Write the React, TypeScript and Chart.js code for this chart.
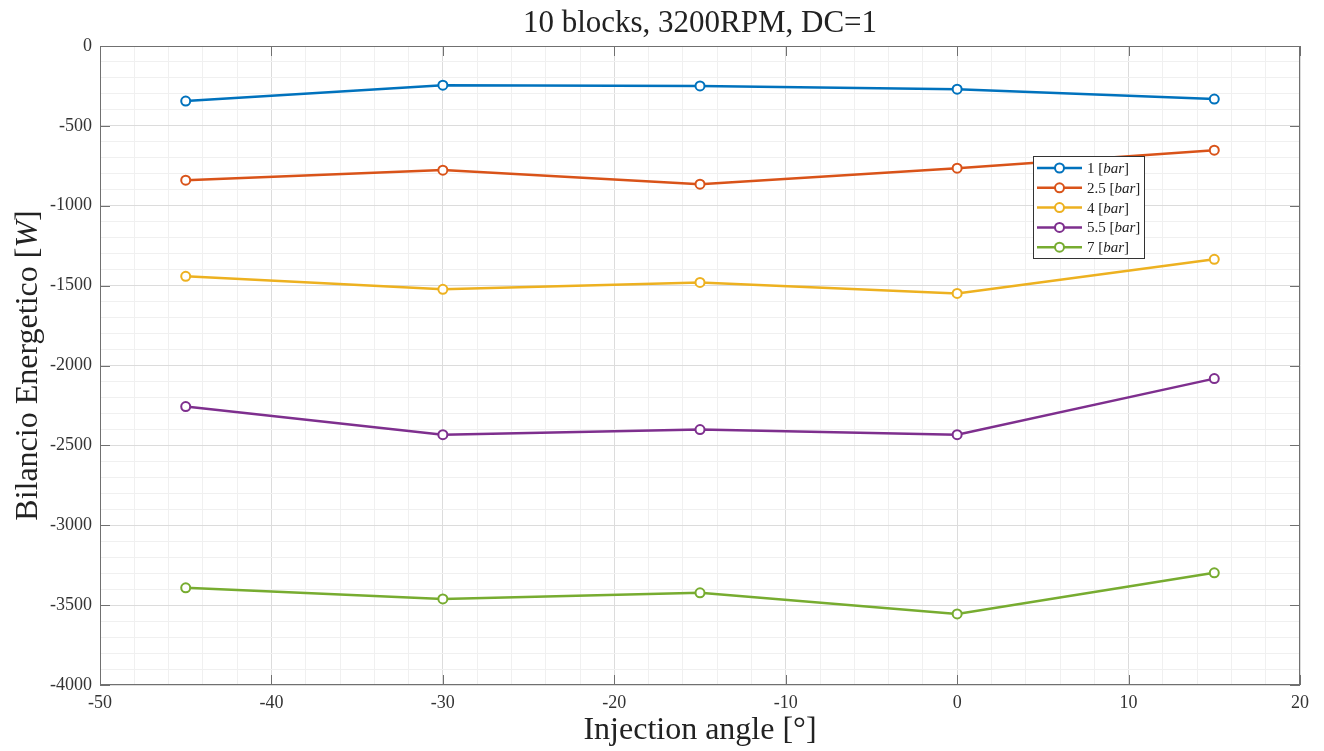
import React, { useEffect, useRef } from 'react';
import { Chart, registerables } from 'chart.js';
Chart.register(...registerables);

const angles = [-45, -30, -15, 0, 15];
const seriesLabels = ['1', '2.5', '4', '5.5', '7'];
const p1 = [-345, -245, -250, -270, -332];
const p25 = [-840, -777, -865, -765, -652];
const p4 = [-1442, -1523, -1480, -1549, -1335];
const p55 = [-2257, -2433, -2401, -2433, -2082];
const p7 = [-3392, -3461, -3423, -3555, -3298];
const seriesValues = [p1, p25, p4, p55, p7];
const colors = ['#0072BD', '#D95319', '#EDB120', '#7E2F8E', '#77AC30'];

const titleText = '10 blocks, 3200RPM, DC=1';
const FONT = '"Liberation Serif", "Times New Roman", serif';

type Part = [string, boolean];

function drawParts(ctx: CanvasRenderingContext2D, parts: Part[], cx: number, y: number, size: number) {
  const widths = parts.map(([t, it]) => {
    ctx.font = `${it ? 'italic ' : ''}${size}px ${FONT}`;
    return ctx.measureText(t).width;
  });
  const total = widths.reduce((a, b) => a + b, 0);
  let x = cx - total / 2;
  parts.forEach(([t, it], i) => {
    ctx.font = `${it ? 'italic ' : ''}${size}px ${FONT}`;
    ctx.textAlign = 'left';
    ctx.fillText(t, x, y);
    x += widths[i];
  });
}

function drawPartsLeft(ctx: CanvasRenderingContext2D, parts: Part[], x0: number, y: number, size: number) {
  let x = x0;
  parts.forEach(([t, it]) => {
    ctx.font = `${it ? 'italic ' : ''}${size}px ${FONT}`;
    ctx.textAlign = 'left';
    ctx.fillText(t, x, y);
    x += ctx.measureText(t).width;
  });
}

const decorPlugin = {
  id: 'decor',
  afterDraw(chart: any) {
    const ctx: CanvasRenderingContext2D = chart.ctx;
    const a = chart.chartArea;
    const xs = chart.scales.x;
    const ys = chart.scales.y;
    ctx.save();
    // box
    ctx.strokeStyle = '#707070';
    ctx.lineWidth = 1;
    ctx.strokeRect(a.left + 0.5, a.top + 0.5, a.right - a.left - 1, a.bottom - a.top - 1);
    // inward ticks
    ctx.beginPath();
    for (let v = -4000; v <= 0; v += 500) {
      const py = Math.round(ys.getPixelForValue(v)) + 0.5;
      ctx.moveTo(a.left, py);
      ctx.lineTo(a.left + 10, py);
      ctx.moveTo(a.right, py);
      ctx.lineTo(a.right - 10, py);
    }
    for (let v = -50; v <= 20; v += 10) {
      const px = Math.round(xs.getPixelForValue(v)) + 0.5;
      ctx.moveTo(px, a.bottom);
      ctx.lineTo(px, a.bottom - 10);
      ctx.moveTo(px, a.top);
      ctx.lineTo(px, a.top + 10);
    }
    ctx.stroke();

    ctx.fillStyle = '#222';
    ctx.textBaseline = 'alphabetic';
    // title
    drawParts(ctx, [[titleText, false]], (a.left + a.right) / 2, 32, 31);
    // x label
    drawParts(ctx, [['Injection angle [°]', false]], (a.left + a.right) / 2, 739, 32);
    // y label
    ctx.save();
    ctx.translate(37, (a.top + a.bottom) / 2);
    ctx.rotate(-Math.PI / 2);
    drawParts(ctx, [['Bilancio Energetico [', false], ['W', true], [']', false]], 0, 0, 32);
    ctx.restore();

    // legend
    const bx = 1033, by = 156, bw = 111, bh = 102;
    ctx.fillStyle = '#fff';
    ctx.fillRect(bx, by, bw, bh);
    ctx.strokeStyle = '#333';
    ctx.lineWidth = 1;
    ctx.strokeRect(bx + 0.5, by + 0.5, bw, bh);
    seriesLabels.forEach((lab, i) => {
      const ry = 168 + i * 19.8;
      ctx.strokeStyle = colors[i];
      ctx.lineWidth = 2.5;
      ctx.beginPath();
      ctx.moveTo(1037, ry);
      ctx.lineTo(1082, ry);
      ctx.stroke();
      ctx.beginPath();
      ctx.arc(1059.5, ry, 4.5, 0, Math.PI * 2);
      ctx.fillStyle = '#fff';
      ctx.fill();
      ctx.lineWidth = 2;
      ctx.stroke();
      ctx.fillStyle = '#222';
      ctx.textBaseline = 'middle';
      drawPartsLeft(ctx, [[lab + ' [', false], ['bar', true], [']', false]], 1087, ry + 1, 15);
    });
    ctx.restore();
  },
};

export default function App() {
  const ref = useRef<HTMLCanvasElement | null>(null);
  useEffect(() => {
    if (!ref.current) return;
    const datasets = seriesValues.map((vals, i) => ({
      label: seriesLabels[i] + ' [bar]',
      data: angles.map((x, j) => ({ x, y: vals[j] })),
      borderColor: colors[i],
      backgroundColor: colors[i],
      borderWidth: 2.5,
      pointRadius: 4.5,
      pointBorderWidth: 2,
      pointBackgroundColor: '#ffffff',
      pointBorderColor: colors[i],
      tension: 0,
      fill: false,
    }));
    const chart = new Chart(ref.current, {
      type: 'line',
      data: { datasets },
      options: {
        animation: false,
        responsive: false,
        layout: { padding: { top: 46, right: 24, left: 0, bottom: 0 } },
        plugins: { legend: { display: false }, title: { display: false }, tooltip: { enabled: false } },
        scales: {
          x: {
            type: 'linear',
            min: -50,
            max: 20,
            afterFit: (s: any) => { s.height = 66; },
            ticks: {
              stepSize: 2,
              autoSkip: false,
              maxRotation: 0,
              padding: 7,
              color: '#333',
              font: { family: FONT, size: 18 },
              callback: (v: any) => (Math.abs(Math.round(Number(v))) % 10 === 0 ? String(Math.round(Number(v))) : ''),
            },
            grid: {
              drawTicks: false,
              color: (c: any) => (c.tick && Math.abs(Math.round(c.tick.value)) % 10 === 0 ? '#dcdcdc' : '#f0f0f0'),
            },
            border: { display: false },
          },
          y: {
            type: 'linear',
            min: -4000,
            max: 0,
            afterFit: (s: any) => { s.width = 100; },
            ticks: {
              stepSize: 100,
              autoSkip: false,
              padding: 8,
              color: '#333',
              font: { family: FONT, size: 18 },
              callback: (v: any) => (Math.abs(Math.round(Number(v))) % 500 === 0 ? String(Math.round(Number(v))) : ''),
            },
            grid: {
              drawTicks: false,
              color: (c: any) => (c.tick && Math.abs(Math.round(c.tick.value)) % 500 === 0 ? '#dcdcdc' : '#f0f0f0'),
            },
            border: { display: false },
          },
        },
      },
      plugins: [decorPlugin],
    });
    return () => chart.destroy();
  }, []);
  return (
    <div style={{ position: 'absolute', left: 0, top: 0, width: 1324, height: 751, background: '#fff' }}>
      <canvas ref={ref} width={1324} height={751} />
    </div>
  );
}
